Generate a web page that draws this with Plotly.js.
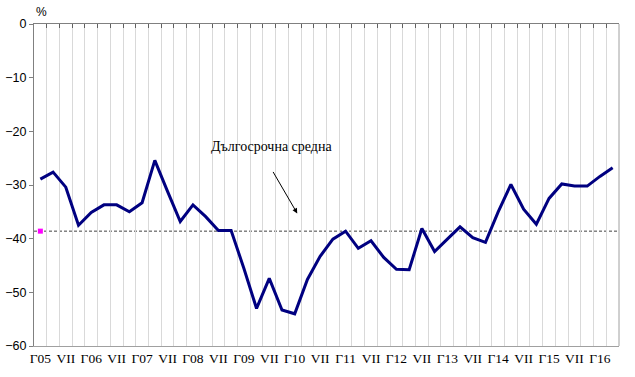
<!DOCTYPE html>
<html>
<head>
<meta charset="utf-8">
<script src="https://cdn.plot.ly/plotly-3.0.1.min.js"></script>
<style>html,body{margin:0;padding:0;background:#fff}#chart{width:635px;height:377px}</style>
</head>
<body>
<div id="chart"></div>
<script>
// Quarterly periods, I'05 .. IV'16
const periods = [
 "I05","IV05","VII05","X05","I06","IV06","VII06","X06","I07","IV07","VII07","X07",
 "I08","IV08","VII08","X08","I09","IV09","VII09","X09","I10","IV10","VII10","X10",
 "I11","IV11","VII11","X11","I12","IV12","VII12","X12","I13","IV13","VII13","X13",
 "I14","IV14","VII14","X14","I15","IV15","VII15","X15","I16","IV16"
];
const values = [
 -28.9,-27.6,-30.4,-37.5,-35.1,-33.7,-33.7,-35.0,-33.3,-25.4,-31.2,-36.8,
 -33.7,-35.9,-38.5,-38.5,-45.5,-53.0,-47.4,-53.3,-54.0,-47.6,-43.3,-40.1,
 -38.6,-41.8,-40.4,-43.5,-45.7,-45.8,-38.1,-42.4,-40.1,-37.8,-39.8,-40.7,
 -35.0,-29.9,-34.5,-37.3,-32.5,-29.8,-30.2,-30.2,-28.4,-26.8
];
const longTermAvg = -38.6;
const tickLabels = ["Г05","VII","Г06","VII","Г07","VII","Г08","VII","Г09","VII","Г10","VII",
 "Г11","VII","Г12","VII","Г13","VII","Г14","VII","Г15","VII","Г16"];
const avgLabel = "Дългосрочна средна";

const idx = periods.map((p,i)=>i);
const tickVals = tickLabels.map((t,i)=>i*2);
const n = periods.length;
const boundaries = [];
for (let i=0;i<=n;i++) boundaries.push(i-0.5);

const traces = [
 {x: idx, y: values, type:'scatter', mode:'lines', line:{color:'#000080', width:3}, hoverinfo:'skip', xaxis:'x', yaxis:'y'},
 {x: [0], y: [longTermAvg], type:'scatter', mode:'markers', marker:{symbol:'square', size:5, color:'#ff00ff'}, hoverinfo:'skip'},
 {x: [0], y: [0], type:'scatter', mode:'markers', marker:{opacity:0}, xaxis:'x2', yaxis:'y', hoverinfo:'skip'}
];

const layout = {
 width:635, height:377,
 margin:{l:34, r:16, t:24, b:31},
 paper_bgcolor:'#fff', plot_bgcolor:'#fff',
 showlegend:false,
 xaxis:{
  range:[-0.5, n-0.5], tickmode:'array', tickvals:tickVals, ticktext:tickLabels,
  showgrid:false, zeroline:false, ticks:'', showline:true, linecolor:'#a0a0a0', linewidth:1,
  tickfont:{family:'Liberation Serif', size:13.5, color:'#000'},
  minor:{tickmode:'array', tickvals:boundaries, showgrid:true, gridcolor:'#d9d9d9', gridwidth:1, ticks:''}
 },
 xaxis2:{
  overlaying:'x', side:'top', range:[-0.5, n-0.5], tickmode:'array', tickvals:boundaries,
  showticklabels:false, ticks:'inside', ticklen:4, tickcolor:'#606060', showline:true, linecolor:'#808080', linewidth:1.5,
  showgrid:false, zeroline:false
 },
 yaxis:{
  range:[-60, 0], dtick:10, tick0:0, showgrid:false, zeroline:false,
  showline:true, linecolor:'#808080', linewidth:1, ticks:'outside', ticklen:4, tickcolor:'#808080',
  tickfont:{family:'Liberation Sans', size:12.5, color:'#000'}
 },
 shapes:[
  {type:'line', xref:'paper', x0:0, x1:1, yref:'y', y0:longTermAvg, y1:longTermAvg, line:{color:'#404040', width:1, dash:'3px,2px'}, layer:'below'},
  {type:'line', xref:'paper', x0:1, x1:1, yref:'paper', y0:0, y1:1, line:{color:'#a0a0a0', width:1}}
 ],
 annotations:[
  {xref:'paper', yref:'paper', x:0.012, y:1.0, yshift:12, text:'%', showarrow:false, xanchor:'center', yanchor:'middle', font:{family:'Liberation Sans', size:12, color:'#000'}},
  {xref:'x', yref:'y', x:18.2, y:-22.8, text:avgLabel, showarrow:false, xanchor:'center', yanchor:'middle', font:{family:'Liberation Serif', size:14, color:'#000'}},
  {xref:'x', yref:'y', x:20.2, y:-35.3, ax:-25, ay:-43, text:'', showarrow:true, arrowhead:2, arrowsize:1, arrowwidth:1, arrowcolor:'#000', standoff:0}
 ]
};

Plotly.newPlot('chart', traces, layout, {staticPlot:true, displayModeBar:false});
</script>
</body>
</html>
